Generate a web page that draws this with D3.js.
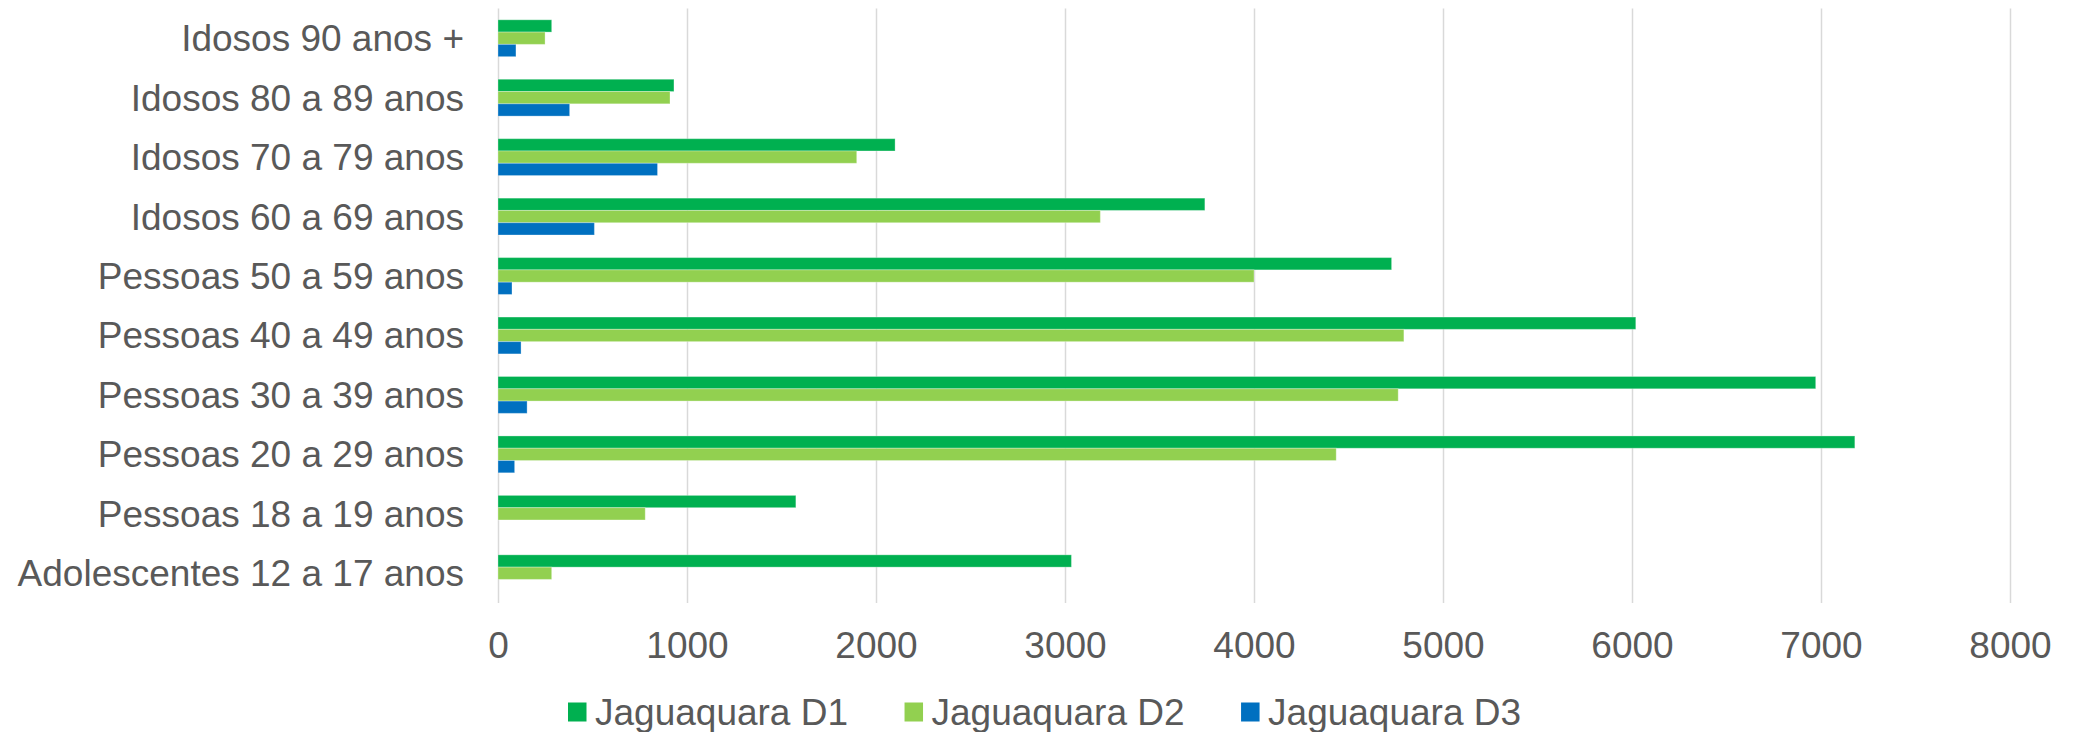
<!DOCTYPE html>
<html>
<head>
<meta charset="utf-8">
<script src="https://cdn.jsdelivr.net/npm/d3@7/dist/d3.min.js"></script>
<style>
  body { margin: 0; background: #fff; }
  svg { display: block; font-family: "Liberation Sans", Arial, sans-serif; }
</style>
</head>
<body>
<div id="chart"></div>
<script>
// data (top row first)
const categories = [
  'Idosos 90 anos +',
  'Idosos 80 a 89 anos',
  'Idosos 70 a 79 anos',
  'Idosos 60 a 69 anos',
  'Pessoas 50 a 59 anos',
  'Pessoas 40 a 49 anos',
  'Pessoas 30 a 39 anos',
  'Pessoas 20 a 29 anos',
  'Pessoas 18 a 19 anos',
  'Adolescentes 12 a 17 anos',
];
const seriesNames = ['Jaguaquara D1', 'Jaguaquara D2', 'Jaguaquara D3'];
const d1 = [284, 931, 2101, 3740, 4728, 6020, 6972, 7179, 1576, 3034];
const d2 = [249, 910, 1898, 3187, 4000, 4793, 4763, 4435, 779, 284];
const d3v = [95, 379, 844, 510, 74, 122, 154, 88, 0, 0];
const xTicks = [0, 1000, 2000, 3000, 4000, 5000, 6000, 7000, 8000];

const colors = ['#00B050', '#92D050', '#0070C0'];
const textColor = '#595959';
const gridColor = '#D9D9D9';
const fontSize = 37;

const width = 2074;
const height = 732;
const margin = { top: 8.5, right: 64, bottom: 129, left: 498 };
const plotW = width - margin.left - margin.right;
const plotH = height - margin.top - margin.bottom;

const svg = d3.select('#chart')
  .append('svg')
  .attr('width', width)
  .attr('height', height);

const g = svg.append('g')
  .attr('transform', `translate(${margin.left},${margin.top})`);

const x = d3.scaleLinear()
  .domain([0, 8000])
  .range([0, plotW]);

const y = d3.scaleBand()
  .domain(categories)
  .range([0, plotH]);

const bw = y.bandwidth();
const ySub = d3.scaleBand()
  .domain(seriesNames)
  .range([bw * 0.19, bw * 0.81]);

// vertical gridlines + tick labels
const xAxis = d3.axisBottom(x)
  .tickValues(xTicks)
  .tickFormat(d3.format('d'))
  .tickSize(-plotH);

g.append('g')
  .attr('transform', `translate(0,${plotH})`)
  .call(xAxis)
  .call(ax => {
    ax.select('.domain').remove();
    ax.selectAll('.tick line')
      .attr('stroke', gridColor)
      .attr('stroke-width', 1.5);
    ax.selectAll('.tick text')
      .attr('y', 42)
      .attr('dy', '0.35em')
      .attr('fill', textColor)
      .style('font-size', fontSize + 'px')
      .style('font-family', '"Liberation Sans", Arial, sans-serif');
  });

// category labels
g.append('g')
  .call(d3.axisLeft(y).tickSize(0).tickPadding(34))
  .call(ax => {
    ax.select('.domain').remove();
    ax.selectAll('.tick text')
      .attr('dy', '0.35em')
      .attr('fill', textColor)
      .style('font-size', fontSize + 'px')
      .style('font-family', '"Liberation Sans", Arial, sans-serif');
  });

// bars
const rows = categories.map((c, i) => ({
  category: c,
  values: [d1[i], d2[i], d3v[i]],
}));

const rowG = g.selectAll('.row')
  .data(rows)
  .enter()
  .append('g')
  .attr('class', 'row')
  .attr('transform', d => `translate(0,${y(d.category)})`);

rowG.selectAll('rect')
  .data(d => d.values.map((v, k) => ({ name: seriesNames[k], value: v, k })))
  .enter()
  .filter(d => d.value > 0)
  .append('rect')
  .attr('x', x(0))
  .attr('y', d => ySub(d.name))
  .attr('width', d => x(d.value) - x(0))
  .attr('height', ySub.bandwidth())
  .attr('fill', d => colors[d.k])
  .attr('stroke', '#fff')
  .attr('stroke-opacity', 0.3)
  .attr('stroke-width', 1);

// legend
const legend = svg.append('g')
  .attr('transform', 'translate(568,712)');

let offset = 0;
seriesNames.forEach((name, k) => {
  const item = legend.append('g')
    .attr('transform', `translate(${offset},0)`);
  item.append('rect')
    .attr('x', 0)
    .attr('y', -9.5)
    .attr('width', 18.5)
    .attr('height', 19)
    .attr('fill', colors[k]);
  const t = item.append('text')
    .attr('x', 27)
    .attr('dy', '0.35em')
    .attr('fill', textColor)
    .style('font-size', fontSize + 'px')
    .text(name);
  offset += 27 + t.node().getComputedTextLength() + 56.5;
});
</script>
</body>
</html>
